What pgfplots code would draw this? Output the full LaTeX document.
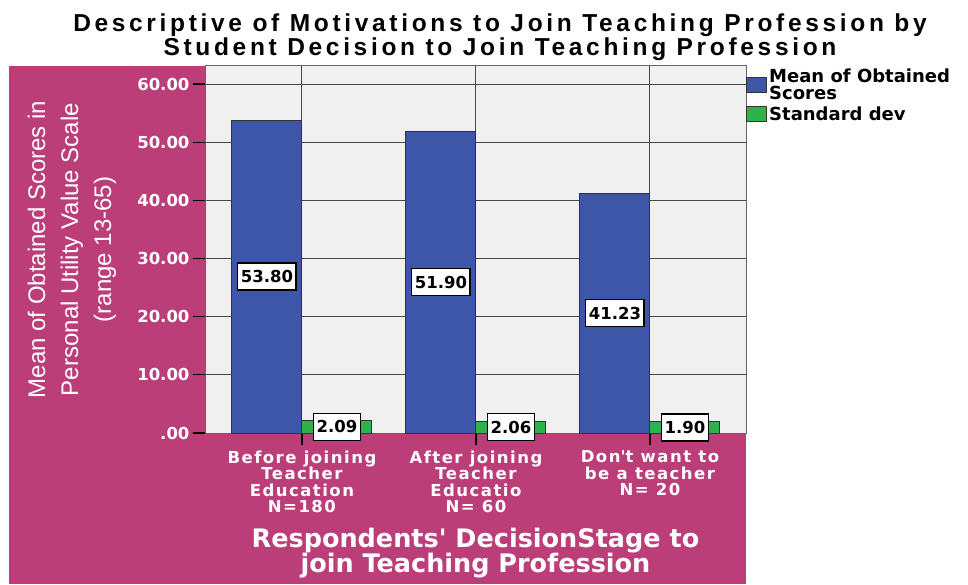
\documentclass[border=0pt]{standalone}
\usepackage{pgfplots}
\pgfplotsset{compat=1.18}
\usepackage{fontspec}
\setmainfont{DejaVu Sans}
\newfontfamily\lib{Liberation Sans}
\newfontfamily\spssT{Liberation Sans}[LetterSpace=15]
\newfontfamily\spssC{DejaVu Sans}[LetterSpace=9]
\definecolor{spssmag}{RGB}{187,62,121}
\definecolor{barblue}{RGB}{62,86,168}
\definecolor{bargreen}{RGB}{44,180,74}
\definecolor{plotbg}{RGB}{240,240,240}
\begin{document}
\begin{tikzpicture}[x=1pt,y=1pt]
\useasboundingbox (0,0) rectangle (968,584);
\fill[spssmag] (9,0) rectangle (746,518);
\node[align=center, font=\spssT\bfseries\fontsize{24.5}{24}\selectfont, text=black] at (500,547) {Descriptive of Motivations to Join Teaching Profession by\\Student Decision to Join Teaching Profession};
\begin{axis}[
  at={(205pt,151pt)}, anchor=south west,
  scale only axis, width=541pt, height=367pt,
  xmin=0.443, xmax=3.552, ymin=0, ymax=63.1,
  axis background/.style={fill=plotbg},
  xtick={1,2,3},
  xticklabels={{Before joining\\Teacher\\Education\\N=180},{After joining\\Teacher\\Educatio\\N= 60},{Don\textquotesingle t want to\\be a teacher\\N= 20}},
  xticklabel style={align=center, text=white, yshift=-2pt, font=\spssC\bfseries\fontsize{16.5}{16.5}\selectfont},
  ytick={0,10,...,60},
  yticklabels={.00,10.00,20.00,30.00,40.00,50.00,60.00},
  yticklabel style={text=white, font=\bfseries\fontsize{16.5}{16.5}\selectfont},
  tick pos=left, tick align=outside, major tick length=12pt,
  tick style={black, line width=1.2pt},
  xmajorgrids, ymajorgrids,
  grid style={black!72, line width=1pt},
  axis line style={black!60, line width=1pt},
  xlabel={Respondents\textquotesingle\ DecisionStage to\\join Teaching Profession},
  xlabel style={at={(axis description cs:0.5,-0.327)}, anchor=center, align=center, text=white, font=\bfseries\fontsize{25.5}{24}\selectfont},
  ylabel={Mean of Obtained Scores in\\Personal Utility Value Scale\\(range 13-65)},
  ylabel style={at={(axis description cs:-0.246,0.5)}, anchor=center, align=center, text=white, font=\lib\fontsize{24}{33}\selectfont},
  legend style={at={(1,1)}, anchor=north west, draw=none, fill=none, inner sep=0pt, yshift=-1pt,
    font=\bfseries\fontsize{18}{16.5}\selectfont, cells={anchor=west, align=left}, row sep=2pt},
]
\addplot[ybar, bar width=70pt, bar shift=-35pt, fill=barblue, draw=black!80, line width=1pt,
  nodes near coords, point meta=explicit symbolic,
  visualization depends on={rawy \as \rawy},
  every node near coord/.append style={anchor=center, xshift=-35pt, yshift={-0.5*\rawy*5.8162pt}, fill=white, draw=black, line width=1.2pt, inner xsep=3pt, minimum height=27pt, text=black, font=\bfseries\fontsize{16.5}{16.5}\selectfont},
  legend image code/.code={\draw[fill=barblue, draw=black!80, line width=1pt] (0pt,-7.5pt) rectangle (20pt,7.5pt);}]
  coordinates {(1,53.80) [53.80] (2,51.90) [51.90] (3,41.23) [41.23]};
\addlegendentry{Mean of Obtained\\Scores}
\addplot[ybar, bar width=70pt, bar shift=35pt, fill=bargreen, draw=black!80, line width=1pt,
  nodes near coords, point meta=explicit symbolic,
  visualization depends on={rawy \as \rawy},
  every node near coord/.append style={anchor=center, xshift=35pt, yshift={-0.5*\rawy*5.8162pt}, fill=white, draw=black, line width=1.2pt, inner xsep=3pt, minimum height=27pt, text=black, font=\bfseries\fontsize{16.5}{16.5}\selectfont},
  legend image code/.code={\draw[fill=bargreen, draw=black!80, line width=1pt] (0pt,-7.5pt) rectangle (20pt,7.5pt);}]
  coordinates {(1,2.09) [2.09] (2,2.06) [2.06] (3,1.90) [1.90]};
\addlegendentry{Standard dev}
\end{axis}
\end{tikzpicture}
\end{document}
